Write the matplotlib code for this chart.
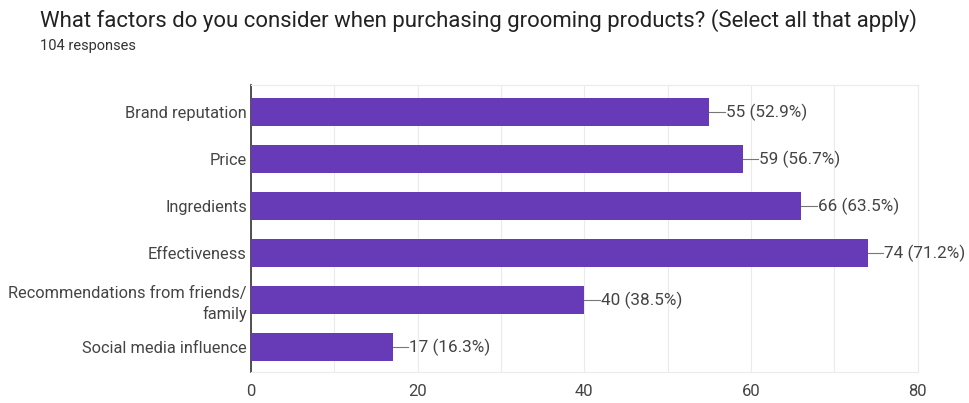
import matplotlib.pyplot as plt
import numpy as np

plt.rcParams['font.family'] = ['Roboto', 'DejaVu Sans']

categories = ['Brand reputation', 'Price', 'Ingredients', 'Effectiveness',
              'Recommendations from friends/\nfamily', 'Social media influence']
counts = [55, 59, 66, 74, 40, 17]
percents = [52.9, 56.7, 63.5, 71.2, 38.5, 16.3]
xticks = [0, 20, 40, 60, 80]

fig = plt.figure(figsize=(9.69, 4.03), dpi=100)
ax = fig.add_axes([0.259, 0.077, 0.688, 0.712])

y = np.arange(len(categories))
ax.barh(y, counts, height=0.59, color='#673ab7', zorder=3)

for yi, c, p in zip(y, counts, percents):
    ax.plot([c, c + 1.9], [yi, yi], color='#777777', lw=0.8, zorder=3)
    ax.text(c + 2.0, yi, f'{c} ({p}%)', va='center', ha='left',
            fontsize=12.3, color='#444444')

ax.set_xlim(0, 80)
ax.set_ylim(len(categories) - 0.47, -0.58)
ax.set_yticks(y)
ax.set_yticklabels(categories, fontsize=11.8, color='#444444', linespacing=1.35)
ax.set_xticks(xticks)
ax.set_xticks(np.arange(10, 80, 20), minor=True)
ax.tick_params(axis='x', which='both', length=0, labelsize=12,
               labelcolor='#444444', pad=9)
ax.tick_params(axis='y', length=0, pad=3)
ax.grid(axis='x', which='both', color='#ebebeb', lw=0.8, zorder=0)

for s in ['top', 'right', 'bottom']:
    ax.spines[s].set_color('#ebebeb')
    ax.spines[s].set_linewidth(0.8)
ax.spines['left'].set_color('#333333')
ax.spines['left'].set_linewidth(1.2)

fig.text(0.041, 0.95, 'What factors do you consider when purchasing grooming products? (Select all that apply)',
         fontsize=15.9, color='#222222', va='center')
fig.text(0.041, 0.885, '104 responses', fontsize=10.5, color='#333333', va='center')

fig.savefig('out.png', dpi=100)
